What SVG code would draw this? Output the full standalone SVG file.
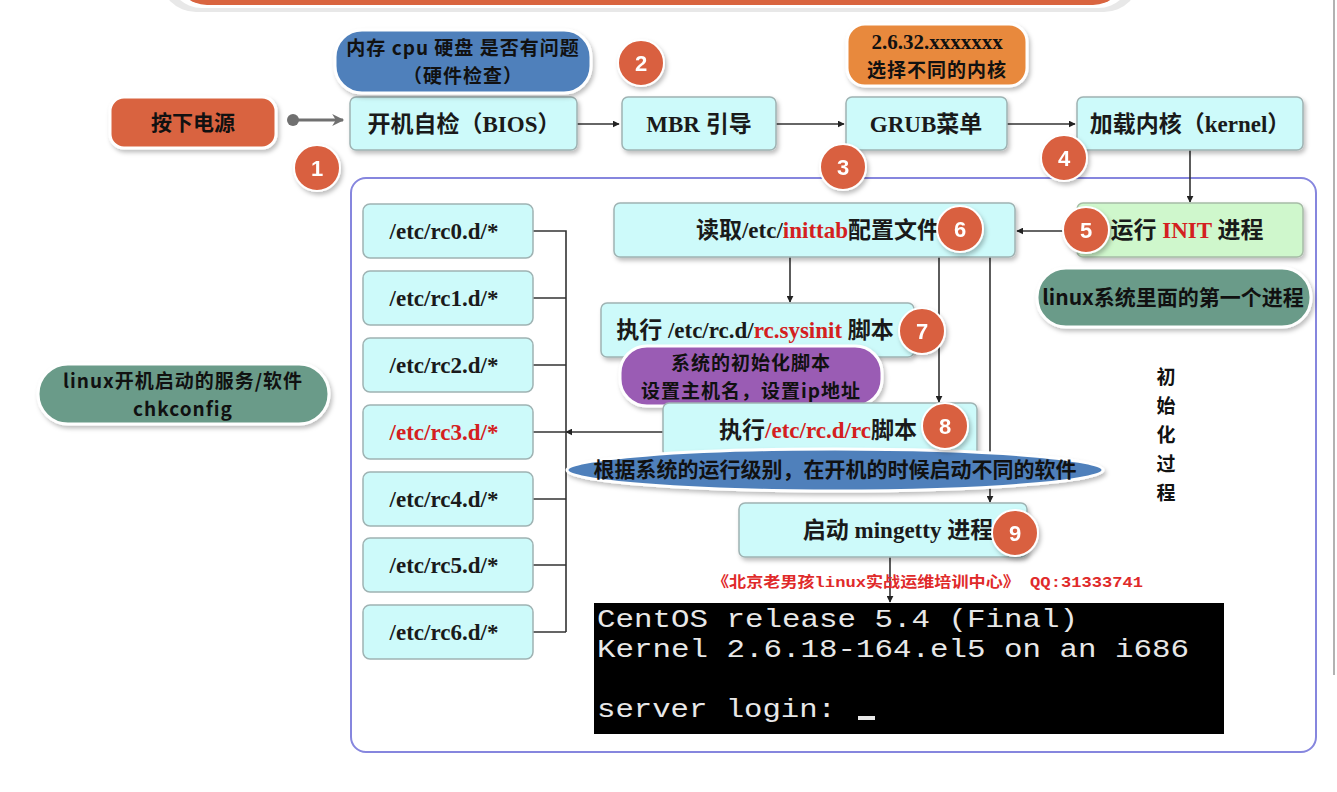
<svg xmlns="http://www.w3.org/2000/svg" width="1337" height="792" viewBox="0 0 1337 792">
<defs>
<style>
.box{fill:#cdfafa;stroke:#9fb3b3;stroke-width:1.5}
.lbl{font-family:"Liberation Serif","Noto Sans CJK SC",serif;font-weight:bold;font-size:23px;fill:#1a1a1a;text-anchor:middle}
.rc{font-family:"Liberation Serif",serif;font-weight:bold;font-size:23px;fill:#1a1a1a;text-anchor:middle}
.red{fill:#d42020}
.note{font-family:"Noto Sans CJK SC","Liberation Sans",sans-serif;font-weight:bold;font-size:21px;fill:#111;text-anchor:middle}
.note2{font-family:"Noto Sans CJK SC","Liberation Sans",sans-serif;font-weight:bold;font-size:19px;letter-spacing:1px;fill:#111;text-anchor:middle}
.vt{font-family:"Noto Sans CJK SC",sans-serif;font-weight:bold;font-size:19px;fill:#111;text-anchor:middle}
.num circle{fill:#d9603f;stroke:#fff;stroke-width:2}
.num text{font-family:"Liberation Sans",Arial,sans-serif;font-weight:bold;font-size:22px;fill:#fff;text-anchor:middle}
.ln{fill:none;stroke:#333;stroke-width:1.6}
.term{font-family:"Liberation Mono","DejaVu Sans Mono",monospace;font-size:26px;fill:#e8e8e8}
</style>
<filter id="sh" x="-10%" y="-20%" width="130%" height="150%">
<feDropShadow dx="2" dy="3" stdDeviation="2" flood-color="#000" flood-opacity="0.25"/>
</filter>
<marker id="ah" viewBox="0 0 10 10" refX="9" refY="5" markerWidth="7" markerHeight="7" orient="auto" markerUnits="userSpaceOnUse">
<path d="M0,0 L10,5 L0,10 z" fill="#222"/>
</marker>
<marker id="ag" viewBox="0 0 10 10" refX="9" refY="5" markerWidth="14" markerHeight="12" orient="auto" markerUnits="userSpaceOnUse">
<path d="M0,0 L10,5 L0,10 L3,5 z" fill="#707070"/>
</marker>
</defs>
<rect width="1337" height="792" fill="#fff"/>
<!-- top banner (partially visible) -->
<g id="banner">
<rect x="160" y="-60" width="980" height="72" rx="36" fill="#e8e8e8"/>
<rect x="168" y="-60" width="964" height="68" rx="34" fill="#fff"/>
<rect x="175" y="-60" width="950" height="65" rx="32" fill="#d9643f"/>
</g>
<line x1="1334" y1="0" x2="1334" y2="675" stroke="#999" stroke-width="1.5"/>

<!-- container -->
<g id="container">
<rect x="351" y="178" width="965" height="574" rx="15" fill="none" stroke="#8686de" stroke-width="2"/>
<text class="vt" x="1166" y="384">初</text>
<text class="vt" x="1166" y="413">始</text>
<text class="vt" x="1166" y="442">化</text>
<text class="vt" x="1166" y="471">过</text>
<text class="vt" x="1166" y="500">程</text>
</g>

<!-- connectors -->
<g id="connectors">
<circle cx="293" cy="120" r="6" fill="#707070"/>
<line x1="293" y1="120" x2="343" y2="120" stroke="#707070" stroke-width="3" marker-end="url(#ag)"/>
<line class="ln" x1="577" y1="124" x2="619" y2="124" marker-end="url(#ah)"/>
<line class="ln" x1="776" y1="124" x2="844" y2="124" marker-end="url(#ah)"/>
<line class="ln" x1="1007" y1="124" x2="1075" y2="124" marker-end="url(#ah)"/>
<line class="ln" x1="1190" y1="150" x2="1190" y2="202" marker-end="url(#ah)"/>
<line class="ln" x1="1077" y1="231" x2="1017" y2="231" marker-end="url(#ah)"/>
<line class="ln" x1="790" y1="257" x2="790" y2="302" marker-end="url(#ah)"/>
<line class="ln" x1="939" y1="257" x2="939" y2="402" marker-end="url(#ah)"/>
<line class="ln" x1="990" y1="257" x2="990" y2="502" marker-end="url(#ah)"/>
<line class="ln" x1="663" y1="432" x2="566" y2="432" marker-end="url(#ah)"/>
<line class="ln" x1="890" y1="557" x2="890" y2="602" marker-end="url(#ah)"/>
<path class="ln" d="M533,231 H566 V632 M533,298 H566 M533,365 H566 M533,432 H566 M533,499 H566 M533,565 H566 M533,632 H566"/>
</g>

<!-- top row -->
<g id="power">
<rect x="110" y="97" width="166" height="51" rx="14" fill="#d9643f" stroke="#fff" stroke-width="3" filter="url(#sh)"/>
<text class="note" x="193" y="130">按下电源</text>
</g>
<g id="bios">
<rect class="box" x="350" y="97" width="227" height="53" rx="6" filter="url(#sh)"/>
<text class="lbl" x="464" y="132">开机自检（BIOS）</text>
</g>
<g id="note-hw">
<rect x="335" y="30" width="256" height="63" rx="27" fill="#4f80bb" stroke="#fff" stroke-width="3" filter="url(#sh)"/>
<text class="note2" x="463" y="55">内存 cpu 硬盘 是否有问题</text>
<text class="note2" x="463" y="83">（硬件检查）</text>
</g>
<g id="mbr">
<rect class="box" x="622" y="97" width="154" height="53" rx="6" filter="url(#sh)"/>
<text class="lbl" x="699" y="132">MBR 引导</text>
</g>
<g id="grub">
<rect class="box" x="846" y="97" width="161" height="53" rx="6" filter="url(#sh)"/>
<text class="lbl" x="926" y="132">GRUB菜单</text>
</g>
<g id="note-kernel">
<rect x="847" y="24" width="180" height="62" rx="18" fill="#e8893c" stroke="#fff" stroke-width="3" filter="url(#sh)"/>
<text class="note2" x="937" y="49" style="font-family:'Liberation Serif','Noto Sans CJK SC',serif;font-size:21px;letter-spacing:0">2.6.32.xxxxxxx</text>
<text class="note2" x="937" y="77">选择不同的内核</text>
</g>
<g id="kernel">
<rect class="box" x="1077" y="97" width="226" height="53" rx="6" filter="url(#sh)"/>
<text class="lbl" x="1190" y="132">加载内核（kernel）</text>
</g>

<!-- init -->
<g id="init">
<rect x="1077" y="203" width="226" height="54" rx="6" fill="#cff7cc" stroke="#a6bca6" stroke-width="1.5" filter="url(#sh)"/>
<text class="lbl" x="1187" y="238">运行 <tspan class="red">INIT</tspan> 进程</text>
</g>
<g id="note-first">
<rect x="1037" y="268" width="274" height="59" rx="29" fill="#6b9b89" stroke="#fff" stroke-width="3" filter="url(#sh)"/>
<text class="note" x="1173" y="305">linux系统里面的第一个进程</text>
</g>
<g id="inittab">
<rect class="box" x="614" y="203" width="401" height="54" rx="6" filter="url(#sh)"/>
<text class="lbl" x="818" y="238">读取/etc/<tspan class="red">inittab</tspan>配置文件</text>
</g>
<g id="sysinit">
<rect class="box" x="601" y="303" width="313" height="54" rx="6" filter="url(#sh)"/>
<text class="lbl" x="755" y="338">执行 /etc/rc.d/<tspan class="red">rc.sysinit</tspan> 脚本</text>
</g>
<g id="note-sysinit">
<rect x="620" y="346" width="262" height="60" rx="27" fill="#9a5cb4" stroke="#fff" stroke-width="3" filter="url(#sh)"/>
<text class="note2" x="751" y="370">系统的初始化脚本</text>
<text class="note2" x="751" y="398">设置主机名，设置ip地址</text>
</g>
<g id="rcscript">
<rect class="box" x="663" y="403" width="314" height="54" rx="6" filter="url(#sh)"/>
<text class="lbl" x="818" y="438">执行<tspan class="red">/etc/rc.d/rc</tspan>脚本</text>
</g>
<g id="note-runlevel">
<ellipse cx="835" cy="470" rx="268" ry="21" fill="#4f80bb" stroke="#fff" stroke-width="3" filter="url(#sh)"/>
<text class="note" x="835" y="477">根据系统的运行级别，在开机的时候启动不同的软件</text>
</g>
<g id="mingetty">
<rect class="box" x="739" y="503" width="288" height="54" rx="6" filter="url(#sh)"/>
<text class="lbl" x="898" y="538">启动 mingetty 进程</text>
</g>

<!-- rc dirs -->
<g id="rc0"><rect class="box" x="363" y="204" width="170" height="54" rx="7"/><text class="rc" x="444" y="239">/etc/rc0.d/*</text></g>
<g id="rc1"><rect class="box" x="363" y="271" width="170" height="54" rx="7"/><text class="rc" x="444" y="306">/etc/rc1.d/*</text></g>
<g id="rc2"><rect class="box" x="363" y="338" width="170" height="54" rx="7"/><text class="rc" x="444" y="373">/etc/rc2.d/*</text></g>
<g id="rc3"><rect class="box" x="363" y="405" width="170" height="54" rx="7"/><text class="rc red" x="444" y="440">/etc/rc3.d/*</text></g>
<g id="rc4"><rect class="box" x="363" y="472" width="170" height="54" rx="7"/><text class="rc" x="444" y="507">/etc/rc4.d/*</text></g>
<g id="rc5"><rect class="box" x="363" y="538" width="170" height="54" rx="7"/><text class="rc" x="444" y="573">/etc/rc5.d/*</text></g>
<g id="rc6"><rect class="box" x="363" y="605" width="170" height="54" rx="7"/><text class="rc" x="444" y="640">/etc/rc6.d/*</text></g>

<g id="note-chkconfig">
<rect x="38" y="364" width="291" height="60" rx="30" fill="#6b9b89" stroke="#fff" stroke-width="3" filter="url(#sh)"/>
<text class="note2" x="183" y="388">linux开机启动的服务/软件</text>
<text class="note2" x="183" y="416">chkconfig</text>
</g>

<!-- number badges -->
<g id="n1" class="num" filter="url(#sh)"><circle cx="317" cy="168" r="23"/><text x="317" y="176">1</text></g>
<g id="n2" class="num" filter="url(#sh)"><circle cx="641" cy="63" r="23"/><text x="641" y="71">2</text></g>
<g id="n3" class="num" filter="url(#sh)"><circle cx="843" cy="167" r="23"/><text x="843" y="175">3</text></g>
<g id="n4" class="num" filter="url(#sh)"><circle cx="1064" cy="158" r="23"/><text x="1064" y="166">4</text></g>
<g id="n5" class="num" filter="url(#sh)"><circle cx="1086" cy="230" r="23"/><text x="1086" y="238">5</text></g>
<g id="n6" class="num" filter="url(#sh)"><circle cx="960" cy="229" r="23"/><text x="960" y="237">6</text></g>
<g id="n7" class="num" filter="url(#sh)"><circle cx="922" cy="331" r="23"/><text x="922" y="339">7</text></g>
<g id="n8" class="num" filter="url(#sh)"><circle cx="945" cy="426" r="23"/><text x="945" y="434">8</text></g>
<g id="n9" class="num" filter="url(#sh)"><circle cx="1015" cy="533" r="23"/><text x="1015" y="541">9</text></g>

<!-- watermark -->
<text x="712" y="587" textLength="431" lengthAdjust="spacingAndGlyphs" style="font-family:'Liberation Mono','Noto Sans CJK SC',monospace;font-size:15px;font-weight:bold;fill:#e02a2a">《北京老男孩linux实战运维培训中心》 QQ:31333741</text>

<!-- terminal -->
<g id="terminal">
<rect x="594" y="603" width="630" height="131" fill="#000"/>
<text class="term" x="597" y="627" textLength="481" lengthAdjust="spacingAndGlyphs">CentOS release 5.4 (Final)</text>
<text class="term" x="597" y="657" textLength="592" lengthAdjust="spacingAndGlyphs">Kernel 2.6.18-164.el5 on an i686</text>
<text class="term" x="597" y="717" textLength="239" lengthAdjust="spacingAndGlyphs">server login:</text>
<rect x="858" y="716" width="17" height="4" fill="#e8e8e8"/>
</g>
</svg>
